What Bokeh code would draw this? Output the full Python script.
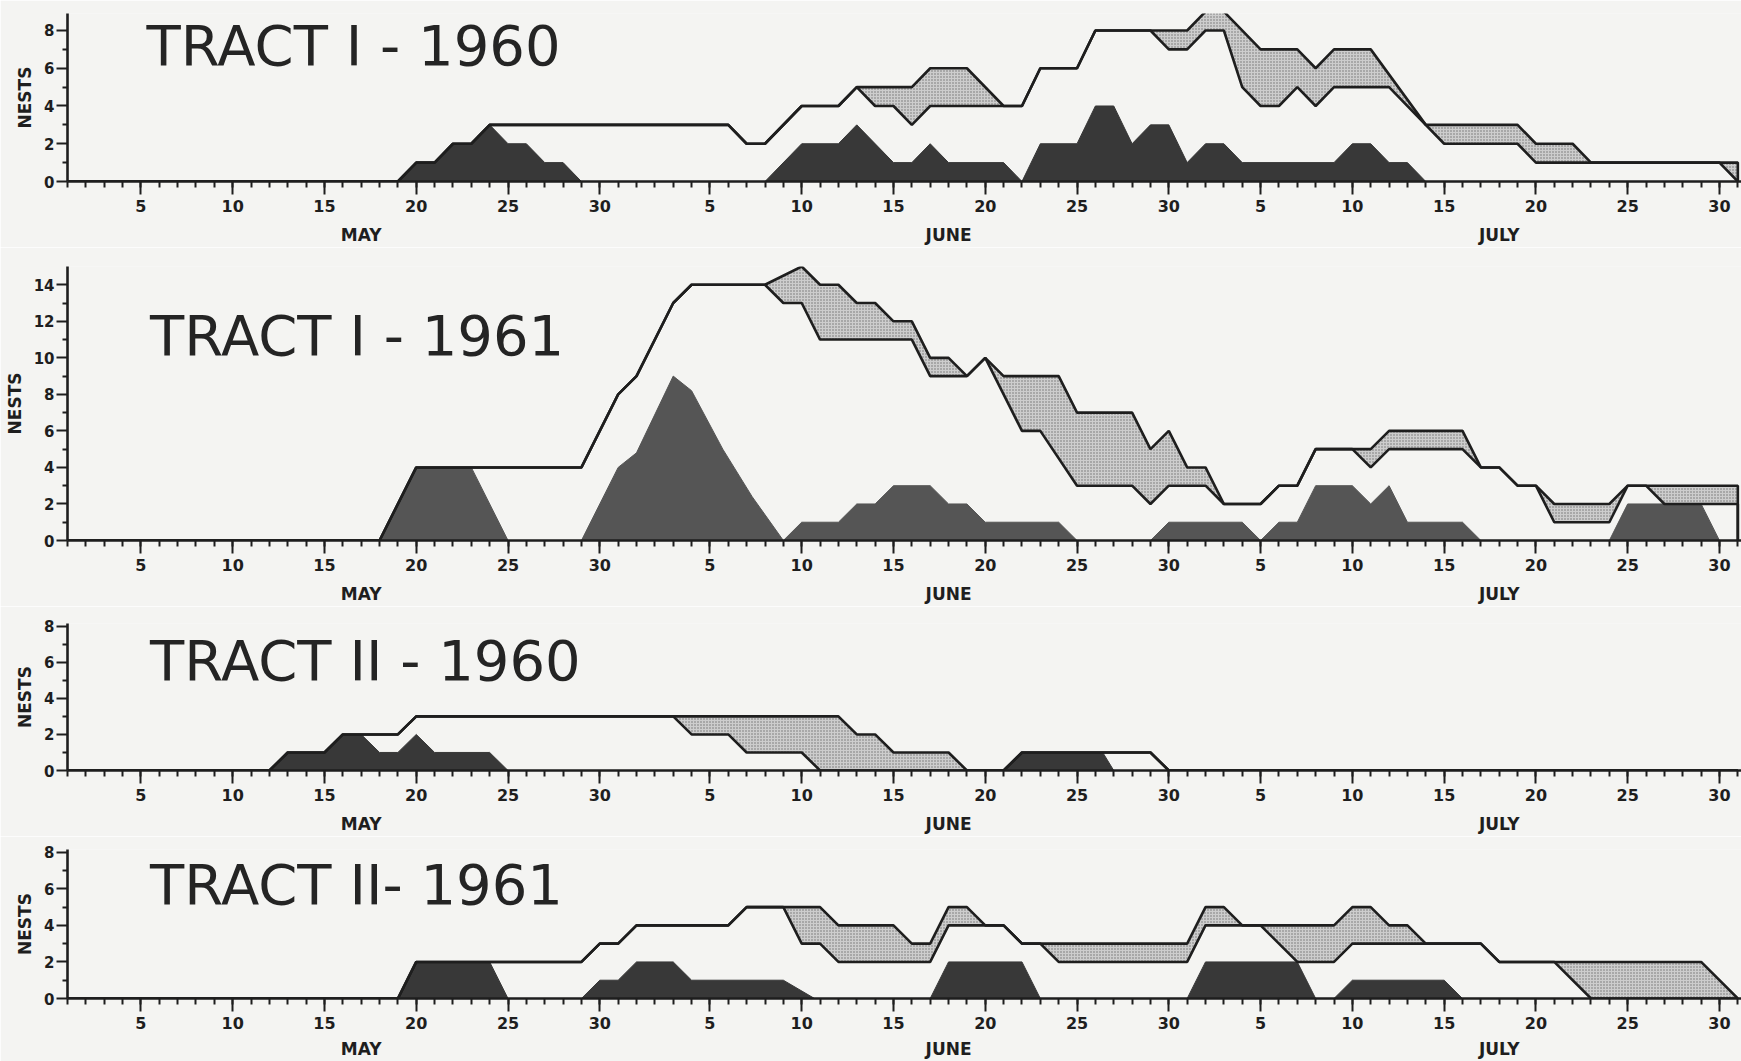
from bokeh.plotting import figure
from bokeh.models import FixedTicker, LinearAxis, Range1d, Label
from bokeh.layouts import column
from bokeh.embed import file_html
from bokeh.resources import INLINE

# ---------------- data (day index: May 1 = 1, June 1 = 32, July 1 = 62) -------------
MAJOR_DAYS = [5, 10, 15, 20, 25, 30, 36, 41, 46, 51, 56, 61, 66, 71, 76, 81, 86, 91]
MAJOR_LABELS = ["5", "10", "15", "20", "25", "30", "5", "10", "15", "20", "25", "30",
                "5", "10", "15", "20", "25", "30"]
MONTHS = ["MAY", "JUNE", "JULY"]
MONTH_POS = [17, 49, 79]

TITLES = ["TRACT I - 1960", "TRACT I - 1961", "TRACT II - 1960", "TRACT II- 1961"]

# Tract I - 1960
P1_TOP_X = [1, 19, 20, 21, 22, 23, 24, 37, 38, 39, 41, 43, 44, 47, 48, 50, 52, 53, 54, 56,
            57, 62, 63, 64, 66, 68, 69, 70, 72, 75, 80, 81, 83, 84, 92, 92]
P1_TOP_Y = [0, 0, 1, 1, 2, 2, 3, 3, 2, 2, 4, 4, 5, 5, 6, 6, 4, 4, 6, 6,
            8, 8, 9, 9, 7, 7, 6, 7, 7, 3, 3, 2, 2, 1, 1, 0]
P1_LOW_X = [1, 19, 20, 21, 22, 23, 24, 37, 38, 39, 41, 43, 44, 45, 46, 47, 48, 52, 53, 54,
            56, 57, 60, 61, 62, 63, 64, 65, 66, 67, 68, 69, 70, 73, 76, 80, 81, 91, 92]
P1_LOW_Y = [0, 0, 1, 1, 2, 2, 3, 3, 2, 2, 4, 4, 5, 4, 4, 3, 4, 4, 4, 6,
            6, 8, 8, 7, 7, 8, 8, 5, 4, 4, 5, 4, 5, 5, 2, 2, 1, 1, 0]
P1_DARK_X = [[19, 20, 21, 22, 23, 24, 25, 26, 27, 28, 29],
             [39, 41, 43, 44, 46, 47, 48, 49, 52, 53, 54, 56, 57, 58, 59, 60, 61, 62, 63, 64,
              65, 70, 71, 72, 73, 74, 75]]
P1_DARK_Y = [[0, 1, 1, 2, 2, 3, 2, 2, 1, 1, 0],
             [0, 2, 2, 3, 1, 1, 2, 1, 1, 0, 2, 2, 4, 4, 2, 3, 3, 1, 2, 2,
              1, 1, 2, 2, 1, 1, 0]]

# Tract I - 1961
P2_TOP_X = [1, 18, 20, 29, 31, 32, 34, 35, 39, 41, 42, 43, 44, 45, 46, 47, 48, 49, 50, 51,
            52, 55, 56, 59, 60, 61, 62, 63, 64, 66, 67, 68, 69, 72, 73, 77, 78, 79, 80, 81,
            82, 85, 86, 92, 92]
P2_TOP_Y = [0, 0, 4, 4, 8, 9, 13, 14, 14, 15, 14, 14, 13, 13, 12, 12, 10, 10, 9, 10,
            9, 9, 7, 7, 5, 6, 4, 4, 2, 2, 3, 3, 5, 5, 6, 6, 4, 4, 3, 3,
            2, 2, 3, 3, 0]
P2_LOW_X = [1, 18, 20, 29, 31, 32, 34, 35, 39, 40, 41, 42, 47, 48, 50, 51, 52, 53, 54, 56,
            59, 60, 61, 63, 64, 66, 67, 68, 69, 71, 72, 73, 77, 78, 79, 80, 81, 82, 85, 86,
            87, 88, 92, 92]
P2_LOW_Y = [0, 0, 4, 4, 8, 9, 13, 14, 14, 13, 13, 11, 11, 9, 9, 10, 8, 6, 6, 3,
            3, 2, 3, 3, 2, 2, 3, 3, 5, 5, 4, 5, 5, 4, 4, 3, 3, 1, 1, 3,
            3, 2, 2, 0]
P2_DARK_X = [[18, 20, 23, 25],
             [29, 31, 32, 34, 35, 36.7, 38.3, 40, 41, 43, 44, 45, 46, 48, 49, 50, 51, 55, 56],
             [60, 61, 65, 66, 67, 68, 69, 71, 72, 73, 74, 77, 78],
             [85, 86, 90, 91]]
P2_DARK_Y = [[0, 4, 4, 0],
             [0, 4, 4.8, 9, 8.2, 5, 2.4, 0, 1, 1, 2, 2, 3, 3, 2, 2, 1, 1, 0],
             [0, 1, 1, 0, 1, 1, 3, 3, 2, 3, 1, 1, 0],
             [0, 2, 2, 0]]

# Tract II - 1960
P3_TOP_X = [1, 12, 13, 15, 16, 19, 20, 43, 44, 45, 46, 49, 50, 52, 53, 60, 61, 92]
P3_TOP_Y = [0, 0, 1, 1, 2, 2, 3, 3, 2, 2, 1, 1, 0, 0, 1, 1, 0, 0]
P3_LOW_X = [1, 12, 13, 15, 16, 19, 20, 34, 35, 37, 38, 41, 42, 52, 53, 60, 61, 92]
P3_LOW_Y = [0, 0, 1, 1, 2, 2, 3, 3, 2, 2, 1, 1, 0, 0, 1, 1, 0, 0]
P3_DARK_X = [[12, 13, 15, 16, 17, 18, 19, 20, 21, 24, 25], [52, 53, 57.4, 58]]
P3_DARK_Y = [[0, 1, 1, 2, 2, 1, 1, 2, 1, 1, 0], [0, 1, 1, 0]]

# Tract II - 1961
P4_TOP_X = [1, 19, 20, 29, 30, 31, 32, 37, 38, 42, 43, 46, 47, 48, 49, 50, 51, 52, 53, 62,
            63, 64, 65, 70, 71, 72, 73, 74, 75, 78, 79, 90, 92]
P4_TOP_Y = [0, 0, 2, 2, 3, 3, 4, 4, 5, 5, 4, 4, 3, 3, 5, 5, 4, 4, 3, 3,
            5, 5, 4, 4, 5, 5, 4, 4, 3, 3, 2, 2, 0]
P4_LOW_X = [1, 19, 20, 29, 30, 31, 32, 37, 38, 40, 41, 42, 43, 48, 49, 52, 53, 54, 55, 62,
            63, 66, 68, 70, 71, 78, 79, 82, 84, 92]
P4_LOW_Y = [0, 0, 2, 2, 3, 3, 4, 4, 5, 5, 3, 3, 2, 2, 4, 4, 3, 3, 2, 2,
            4, 4, 2, 2, 3, 3, 2, 2, 0, 0]
P4_DARK_X = [[19, 20, 24, 25], [29, 30, 31, 32, 34, 35, 40, 41.7], [48, 49, 53, 54],
             [62, 63, 68, 69], [70, 71, 76, 77]]
P4_DARK_Y = [[0, 2, 2, 0], [0, 1, 1, 2, 2, 1, 1, 0], [0, 2, 2, 0], [0, 2, 2, 0], [0, 1, 1, 0]]

# ---------------- styling -------------
BG = "#f4f4f2"
INK = "#1e1e1e"
FONT = "DejaVu Sans"


def make_panel(title, top_x, top_y, low_x, low_y, dark_x, dark_y, ymax, ymaj, ymin,
               bt, fh, bb, title_xy, dark_color, month_standoff):
    p = figure(width=1741, height=bt + fh + bb, x_range=Range1d(1, 92.2),
               y_range=Range1d(0, ymax), output_backend="svg", toolbar_location=None,
               min_border_left=67, min_border_right=0, min_border_top=bt,
               min_border_bottom=bb, background_fill_color=BG, border_fill_color=BG,
               outline_line_color=None)
    p.grid.visible = False

    # gray (stippled) band between the top outline and the lower line
    p.patch(top_x + low_x[::-1], top_y + low_y[::-1], fill_color="#cdcdcd",
            hatch_pattern="dot", hatch_scale=3, hatch_color="#6f6f6f", hatch_weight=1,
            line_color=None)
    # dark areas
    p.patches(dark_x, dark_y, fill_color=dark_color, line_color=dark_color, line_width=1)
    # outlines
    p.line(top_x, top_y, color=INK, line_width=2.6)
    p.line(low_x, low_y, color=INK, line_width=2.6)

    # x axis
    xa = p.xaxis[0]
    xa.ticker = FixedTicker(ticks=MAJOR_DAYS, minor_ticks=list(range(1, 93)))
    xa.major_label_overrides = {d: s for d, s in zip(MAJOR_DAYS, MAJOR_LABELS)}
    xa.axis_line_width = 2.6
    xa.axis_line_color = INK
    xa.major_tick_out = 13
    xa.major_tick_in = 0
    xa.minor_tick_out = 6
    xa.minor_tick_in = 0
    xa.major_tick_line_width = 2
    xa.minor_tick_line_width = 2
    xa.major_tick_line_color = INK
    xa.minor_tick_line_color = INK
    xa.major_label_standoff = 5
    xa.major_label_text_font = FONT
    xa.major_label_text_font_style = "bold"
    xa.major_label_text_font_size = "16px"
    xa.major_label_text_color = INK

    months = LinearAxis(ticker=FixedTicker(ticks=MONTH_POS, minor_ticks=[]),
                        major_label_overrides={d: s for d, s in zip(MONTH_POS, MONTHS)})
    months.axis_line_color = None
    months.major_tick_line_color = None
    months.minor_tick_line_color = None
    months.major_tick_out = 0
    months.major_tick_in = 0
    months.major_label_standoff = month_standoff
    months.major_label_text_font = FONT
    months.major_label_text_font_style = "bold"
    months.major_label_text_font_size = "17px"
    months.major_label_text_color = INK
    p.add_layout(months, "below")

    # y axis
    ya = p.yaxis[0]
    ya.ticker = FixedTicker(ticks=ymaj, minor_ticks=ymin)
    ya.axis_line_width = 2.6
    ya.axis_line_color = INK
    ya.major_tick_out = 11
    ya.major_tick_in = 0
    ya.minor_tick_out = 5
    ya.minor_tick_in = 0
    ya.major_tick_line_width = 2
    ya.minor_tick_line_width = 2
    ya.major_tick_line_color = INK
    ya.minor_tick_line_color = INK
    ya.major_label_standoff = 2
    ya.major_label_text_font = FONT
    ya.major_label_text_font_style = "bold"
    ya.major_label_text_font_size = "15px"
    ya.major_label_text_color = INK
    ya.axis_label = "NESTS"
    ya.axis_label_standoff = 6
    ya.axis_label_text_font = FONT
    ya.axis_label_text_font_style = "bold"
    ya.axis_label_text_font_size = "17px"
    ya.axis_label_text_color = INK

    p.add_layout(Label(x=title_xy[0], y=title_xy[1], text=title, text_font=FONT,
                       text_font_size="56px", text_color="#242424",
                       text_baseline="alphabetic"))
    return p


p1 = make_panel(TITLES[0], P1_TOP_X, P1_TOP_Y, P1_LOW_X, P1_LOW_Y, P1_DARK_X, P1_DARK_Y,
                8.9, [0, 2, 4, 6, 8], [1, 3, 5, 7], 13, 168, 66, (5.3, 7.2), "#383838", 10)
p2 = make_panel(TITLES[1], P2_TOP_X, P2_TOP_Y, P2_LOW_X, P2_LOW_Y, P2_DARK_X, P2_DARK_Y,
                15.0, [0, 2, 4, 6, 8, 10, 12, 14], [1, 3, 5, 7, 9, 11, 13], 19, 274, 66,
                (5.5, 11.2), "#555555", 10)
p3 = make_panel(TITLES[2], P3_TOP_X, P3_TOP_Y, P3_LOW_X, P3_LOW_Y, P3_DARK_X, P3_DARK_Y,
                8.15, [0, 2, 4, 6, 8], [1, 3, 5, 7], 17, 147, 66, (5.5, 6.1), "#383838", 10)
p4 = make_panel(TITLES[3], P4_TOP_X, P4_TOP_Y, P4_LOW_X, P4_LOW_Y, P4_DARK_X, P4_DARK_Y,
                8.15, [0, 2, 4, 6, 8], [1, 3, 5, 7], 13, 150, 62, (5.5, 6.25), "#383838", 7)

layout = column(p1, p2, p3, p4, spacing=0)
open("out.html", "w").write(file_html(layout, INLINE))
